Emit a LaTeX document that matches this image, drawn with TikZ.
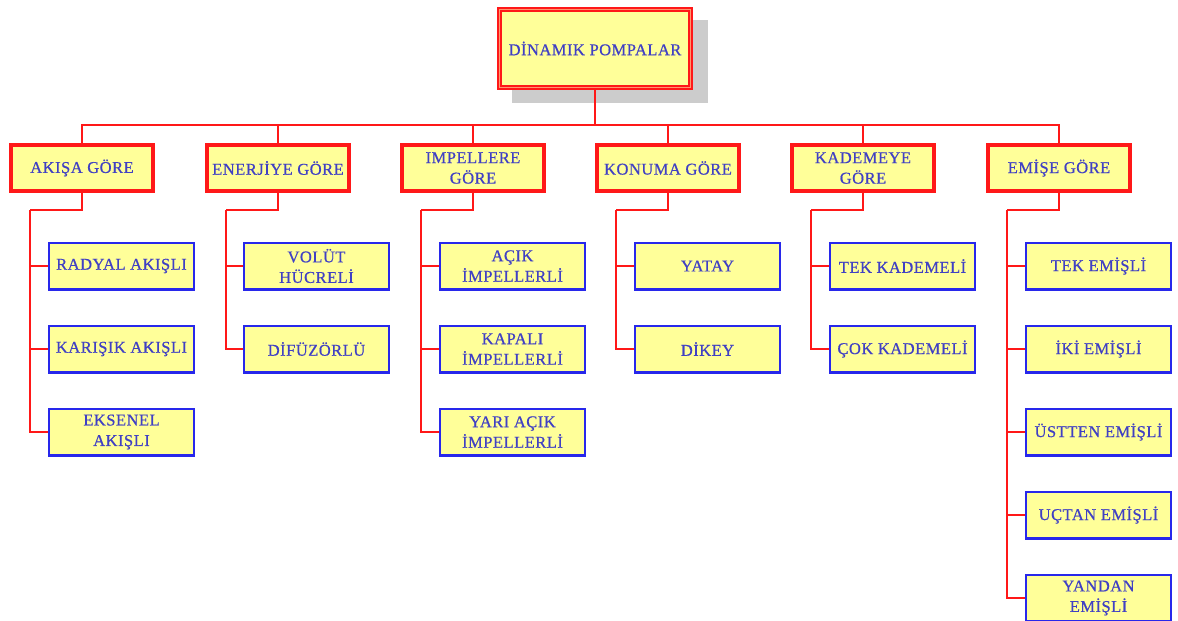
\documentclass[tikz,border=0pt]{standalone}
\usepackage{fontspec}
\setmainfont[FakeBold=0.6,LetterSpace=3]{Liberation Serif}
\definecolor{boxfill}{RGB}{255,255,153}
\definecolor{txtblue}{RGB}{64,64,196}
\definecolor{lred}{RGB}{255,24,24}
\definecolor{bblue}{RGB}{40,40,235}
\definecolor{shadowgray}{RGB}{204,204,204}
\definecolor{innerline}{RGB}{255,150,110}
\begin{document}
\begin{tikzpicture}[x=1pt,y=-1pt,
  txt/.style={align=center, text=txtblue, font=\fontsize{16.5}{20.5}\selectfont, inner sep=0pt},
  topbox/.style={txt, draw=lred, line width=2pt, double=innerline, double distance=1.2pt, fill=boxfill, minimum width=190.8pt, minimum height=77.8pt},
  lvlbox/.style={txt, draw=lred, line width=4pt, fill=boxfill, minimum width=142pt, minimum height=46pt},
  leafbox/.style={txt, draw=bblue, line width=2.2pt, fill=boxfill, minimum width=144.8pt, minimum height=46.8pt},
  conn/.style={draw=lred, line width=1.6pt}]
\useasboundingbox (0,0) rectangle (1178,621);
% shadow of top box
\fill[shadowgray] (512,20) rectangle (708,103);
\node[topbox] (top) at (595,48.5) {DİNAMIK POMPALAR};

% level 1
\node[lvlbox] (a) at (82,168) {AKIŞA GÖRE};
\node[lvlbox] (b) at (278,168) {ENERJİYE GÖRE};
\node[lvlbox] (c) at (473,168) {IMPELLERE\\GÖRE};
\node[lvlbox] (d) at (668,168) {KONUMA GÖRE};
\node[lvlbox] (e) at (863,168) {KADEMEYE\\GÖRE};
\node[lvlbox] (f) at (1059,168) {EMİŞE GÖRE};

% level 2
\node[leafbox] (a1) at (121.5,266) {RADYAL AKIŞLI};
\node[leafbox] (a2) at (121.5,349) {KARIŞIK AKIŞLI};
\node[leafbox] (a3) at (121.5,432) {EKSENEL\\AKIŞLI};

\node[leafbox] (b1) at (316.5,266) {VOLÜT\\HÜCRELİ};
\node[leafbox] (b2) at (316.5,349) {DİFÜZÖRLÜ};

\node[leafbox] (c1) at (512.5,266) {AÇIK\\İMPELLERLİ};
\node[leafbox] (c2) at (512.5,349) {KAPALI\\İMPELLERLİ};
\node[leafbox] (c3) at (512.5,432) {YARI AÇIK\\İMPELLERLİ};

\node[leafbox] (d1) at (707.5,266) {YATAY};
\node[leafbox] (d2) at (707.5,349) {DİKEY};

\node[leafbox] (e1) at (902.5,266) {TEK KADEMELİ};
\node[leafbox] (e2) at (902.5,349) {ÇOK KADEMELİ};

\node[leafbox] (f1) at (1098.5,266) {TEK EMİŞLİ};
\node[leafbox] (f2) at (1098.5,349) {İKİ EMİŞLİ};
\node[leafbox] (f3) at (1098.5,432) {ÜSTTEN EMİŞLİ};
\node[leafbox] (f4) at (1098.5,515) {UÇTAN EMİŞLİ};
\node[leafbox] (f5) at (1098.5,598) {YANDAN\\EMİŞLİ};

% bus
\coordinate (bus) at (595,125);
\draw[conn] (top.south) -- (bus);
\foreach \n in {a,b,c,d,e,f} {\draw[conn] (bus) -| (\n.north);}

% spines
\coordinate (sa) at (30,210);
\coordinate (sb) at (226,210);
\coordinate (sc) at (421,210);
\coordinate (sd) at (616,210);
\coordinate (se) at (811,210);
\coordinate (sf) at (1007,210);
\foreach \n in {a,b,c,d,e,f} {\draw[conn] (\n.south) |- (s\n);}
\foreach \n in {a1,a2,a3} {\draw[conn] (sa) |- (\n.west);}
\foreach \n in {b1,b2} {\draw[conn] (sb) |- (\n.west);}
\foreach \n in {c1,c2,c3} {\draw[conn] (sc) |- (\n.west);}
\foreach \n in {d1,d2} {\draw[conn] (sd) |- (\n.west);}
\foreach \n in {e1,e2} {\draw[conn] (se) |- (\n.west);}
\foreach \n in {f1,f2,f3,f4,f5} {\draw[conn] (sf) |- (\n.west);}
\end{tikzpicture}
\end{document}
